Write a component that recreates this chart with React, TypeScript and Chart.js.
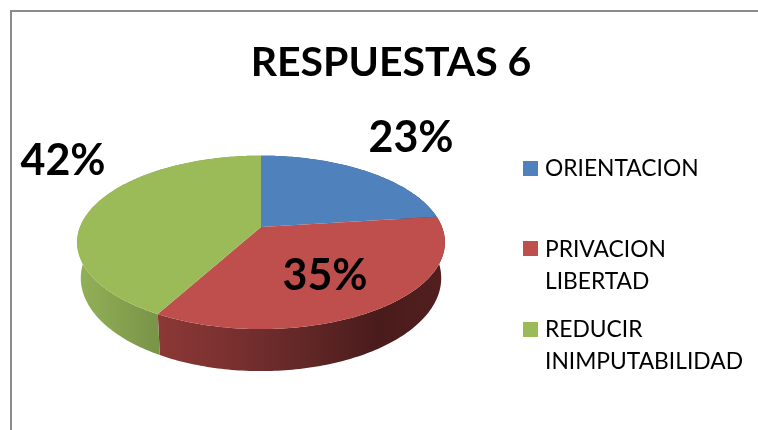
import React, { useEffect, useRef } from "react";
import { Chart, registerables } from "chart.js";

Chart.register(...registerables);

const TITLE = "RESPUESTAS 6";
const categories: string[][] = [["ORIENTACION"], ["PRIVACION", "LIBERTAD"], ["REDUCIR", "INIMPUTABILIDAD"]];
const shares = [23, 35, 42];
const colors = ["#4f81bd", "#be4f4c", "#9bbb59"];

const FONT = "Lato, Carlito, Calibri, sans-serif";

// view of the tilted disc
const CX = 261;
const APEX_Y = 227;
const RX = 181;
const RY = 84;
const K = 0.177;
const DEPTH = 34.6;
const LOWER_SHRINK = 0.98;

function rimPoint(angle: number, lower: boolean): [number, number] {
  const x = Math.cos(angle);
  const y = -Math.sin(angle);
  const w = 1 + K * y;
  const px = (RX * x) / w;
  const py = (-RY * y) / w;
  return lower
    ? [CX + px * LOWER_SHRINK, APEX_Y + py + DEPTH / w]
    : [CX + px, APEX_Y + py];
}

function sample(a0: number, a1: number, lower: boolean): [number, number][] {
  const n = Math.max(2, Math.ceil(Math.abs(a1 - a0) * 60));
  const pts: [number, number][] = [];
  for (let i = 0; i <= n; i++) pts.push(rimPoint(a0 + ((a1 - a0) * i) / n, lower));
  return pts;
}

function tracePath(ctx: CanvasRenderingContext2D, pts: [number, number][]) {
  pts.forEach(([x, y], i) => (i ? ctx.lineTo(x, y) : ctx.moveTo(x, y)));
  ctx.closePath();
}

const sideStops: [number, string][][] = [
  [[0, "#3f658f"], [1, "#2b4666"]],
  [[0, "#8c3836"], [0.21, "#7d3231"], [0.5, "#632827"], [0.77, "#4a1b1b"], [1, "#521f1f"]],
  [[0, "#8fad54"], [0.21, "#7a9448"], [1, "#7a9448"]],
];

const labelCentres: [number, number][] = [[411, 138], [325, 276], [63, 161]];
const legendRows = [
  { box: 161, lines: [169] },
  { box: 241, lines: [250, 282] },
  { box: 322, lines: [330, 362] },
];

const perspectivePie = {
  id: "perspectivePie",
  beforeDraw(chart: Chart) {
    const { ctx, width, height } = chart;
    ctx.save();
    ctx.fillStyle = "#ffffff";
    ctx.fillRect(0, 0, width, height);
    ctx.fillStyle = "#8c8c8c";
    ctx.fillRect(10, 10, width - 10, 2);
    ctx.fillRect(10, 10, 2, height - 10);
    ctx.restore();
  },
  beforeDatasetsDraw(chart: Chart) {
    const { ctx } = chart;
    const arcs = chart.getDatasetMeta(0).data as any[];
    ctx.save();
    // outer walls
    arcs.forEach((arc, i) => {
      const g = ctx.createLinearGradient(155, 0, 445, 0);
      const stops = sideStops[i];
      if (i === 2) {
        const gg = ctx.createLinearGradient(77, 0, 157, 0);
        gg.addColorStop(0, "#93b158");
        gg.addColorStop(1, "#7a9448");
        ctx.fillStyle = gg;
      } else {
        stops.forEach(([o, c]) => g.addColorStop(o, c));
        ctx.fillStyle = g;
      }
      const upper = sample(arc.startAngle, arc.endAngle, false);
      const lower = sample(arc.endAngle, arc.startAngle, true);
      ctx.beginPath();
      tracePath(ctx, [...upper, ...lower]);
      ctx.fill();
    });
    // top faces
    arcs.forEach((arc, i) => {
      ctx.fillStyle = colors[i];
      ctx.beginPath();
      tracePath(ctx, [[CX, APEX_Y], ...sample(arc.startAngle, arc.endAngle, false)]);
      ctx.fill();
    });
    ctx.restore();
    return false;
  },
  afterDraw(chart: Chart) {
    const { ctx } = chart;
    const values = chart.data.datasets[0].data as number[];
    const total = values.reduce((a, b) => a + b, 0);
    ctx.save();
    ctx.fillStyle = "#000000";
    ctx.textBaseline = "middle";
    ctx.textAlign = "center";
    ctx.font = `bold 43px ${FONT}`;
    values.forEach((v, i) => {
      const [x, y] = labelCentres[i];
      ctx.fillText(`${Math.round((v / total) * 100)}%`, x, y);
    });
    ctx.textAlign = "left";
    ctx.font = `22.8px ${FONT}`;
    (chart.data.labels as string[][]).forEach((lines, i) => {
      const row = legendRows[i];
      ctx.fillStyle = colors[i];
      ctx.fillRect(523, row.box, 15, 15);
      ctx.fillStyle = "#000000";
      lines.forEach((t, j) => ctx.fillText(t, 545, row.lines[j]));
    });
    ctx.restore();
  },
};

export default function App() {
  const ref = useRef<HTMLCanvasElement>(null);
  useEffect(() => {
    const chart = new Chart(ref.current!, {
      type: "pie",
      data: {
        labels: categories as any,
        datasets: [{ data: shares, backgroundColor: colors, borderWidth: 0 }],
      },
      options: {
        animation: false,
        responsive: false,
        layout: { padding: { left: 24 } },
        plugins: {
          legend: { display: false },
          tooltip: { enabled: false },
          title: {
            display: true,
            text: TITLE,
            color: "#000000",
            font: { family: FONT, size: 41, weight: "bold" },
            padding: { top: 38, bottom: 0 },
          },
        },
      },
      plugins: [perspectivePie],
    });
    return () => chart.destroy();
  }, []);
  return (
    <div style={{ position: "absolute", left: 0, top: 0, width: 758, height: 430, overflow: "hidden" }}>
      <canvas ref={ref} width={758} height={430} style={{ display: "block" }} />
    </div>
  );
}
